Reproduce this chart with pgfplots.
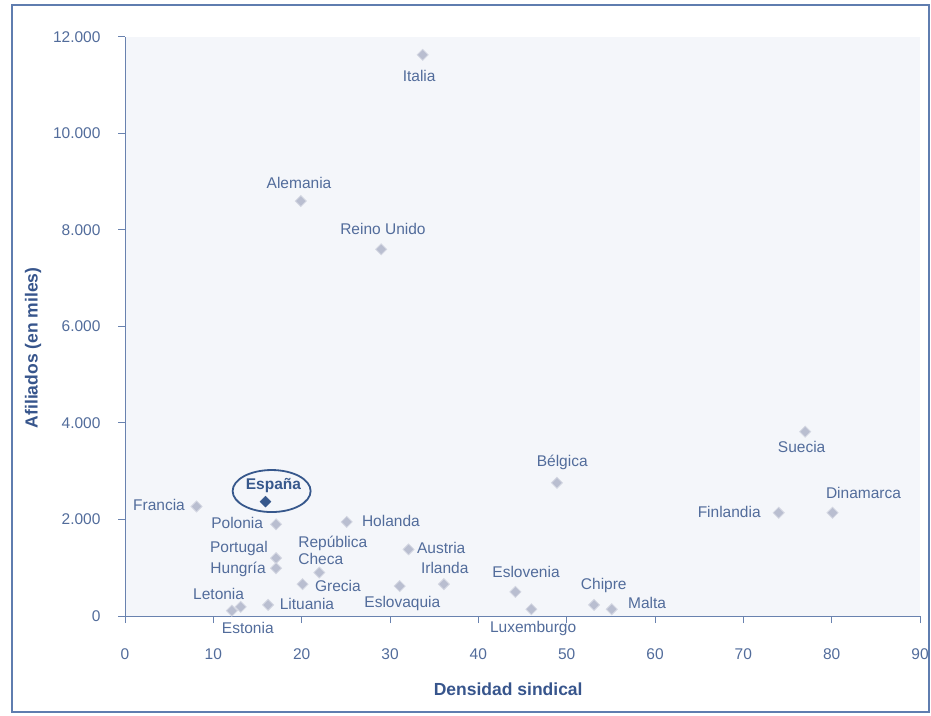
\documentclass[border=0pt]{standalone}
\usepackage{pgfplots}
\pgfplotsset{compat=1.18}
\usepackage{fontspec}
\setmainfont{Liberation Sans}
\definecolor{txt}{RGB}{82,108,155}
\definecolor{ttl}{RGB}{55,85,140}
\definecolor{axc}{RGB}{105,130,175}
\definecolor{frm}{RGB}{95,125,175}
\definecolor{mk}{RGB}{185,190,208}
\definecolor{mkd}{RGB}{212,215,226}
\definecolor{esp}{RGB}{55,88,140}
\definecolor{bg}{RGB}{244,246,250}
\tikzset{lbl/.style={font=\fontsize{15.5}{17}\selectfont, text=txt, inner sep=0pt, anchor=center}}
\pgfplotstableread{
x y
8.1 2270
17.1 1900
25.1 1950
32.1 1380
17.1 1200
17.1 990
22.0 900
20.1 660
31.1 620
36.1 660
13.1 190
12.1 110
16.2 230
33.7 11630
19.9 8600
29.0 7600
77.0 3820
48.9 2760
74.0 2140
80.1 2140
44.2 500
46.0 140
53.1 230
55.1 140
}\paises
\pgfplotstableread{
x y
15.9 2370
}\espana
\begin{document}
\begin{tikzpicture}
\path[use as bounding box] (0,0) rectangle (931pt,715pt);
\draw[frm, line width=1.3pt] (12pt,3pt) rectangle (929pt,710pt);
\begin{axis}[
  at={(125pt,99pt)}, anchor=south west,
  scale only axis, width=795pt, height=579pt,
  xmin=0, xmax=90, ymin=0, ymax=12000,
  axis lines=left, axis line style={-, axc, line width=1pt},
  clip=false,
  xtick={0,10,...,90}, ytick={0,2000,...,12000},
  tick align=outside, major tick length=7pt,
  tick style={axc, line width=1pt},
  scaled y ticks=false,
  /pgf/number format/assume math mode=true,
  yticklabel style={/pgf/number format/1000 sep={.}, xshift=-14pt},
  xticklabel style={yshift=-22pt},
  ticklabel style={font=\fontsize{15.5}{18}\selectfont, text=txt},
  xlabel={Densidad sindical}, ylabel={Afiliados (en miles)},
  label style={font=\fontsize{17.5}{20}\selectfont\bfseries, text=ttl},
  xlabel style={at={(axis description cs:0.482,-0.126)}, anchor=center},
  ylabel style={at={(axis description cs:-0.1157,0.463)}, anchor=center},
  axis background/.style={fill=bg},
]
\addplot[only marks, mark=square*, mark size=3.9pt, mark options={rotate=45, fill=mk, draw=mkd, line width=0.8pt}] table {\paises};
\addplot[only marks, mark=square*, mark size=3.9pt, mark options={rotate=45, fill=esp, draw=esp}] table {\espana};
\draw[esp, line width=1.8pt] (axis cs:16.6,2590) ellipse [x radius=39pt, y radius=21pt];
\node[lbl, font=\fontsize{15.5}{17}\selectfont\bfseries, text=esp] at (axis cs:16.8,2700) {España};
\node[lbl] at (axis cs:33.3,11190) {Italia};
\node[lbl] at (axis cs:19.7,8980) {Alemania};
\node[lbl] at (axis cs:29.2,8020) {Reino Unido};
\node[lbl] at (axis cs:3.85,2300) {Francia};
\node[lbl] at (axis cs:12.7,1928) {Polonia};
\node[lbl] at (axis cs:30.1,1969) {Holanda};
\node[lbl, anchor=west, align=left] at (axis cs:19.6,1358) {República\\Checa};
\node[lbl] at (axis cs:35.8,1410) {Austria};
\node[lbl] at (axis cs:12.9,1389) {Portugal};
\node[lbl] at (axis cs:12.8,974) {Hungría};
\node[lbl] at (axis cs:24.1,622) {Grecia};
\node[lbl] at (axis cs:36.2,995) {Irlanda};
\node[lbl] at (axis cs:31.4,269) {Eslovaquia};
\node[lbl] at (axis cs:10.6,456) {Letonia};
\node[lbl] at (axis cs:13.9,-249) {Estonia};
\node[lbl] at (axis cs:20.6,249) {Lituania};
\node[lbl] at (axis cs:45.4,912) {Eslovenia};
\node[lbl] at (axis cs:46.2,-249) {Luxemburgo};
\node[lbl] at (axis cs:54.2,622) {Chipre};
\node[lbl] at (axis cs:59.1,269) {Malta};
\node[lbl] at (axis cs:49.5,3192) {Bélgica};
\node[lbl] at (axis cs:76.6,3503) {Suecia};
\node[lbl] at (axis cs:68.4,2156) {Finlandia};
\node[lbl] at (axis cs:83.6,2550) {Dinamarca};
\end{axis}
\end{tikzpicture}
\end{document}
